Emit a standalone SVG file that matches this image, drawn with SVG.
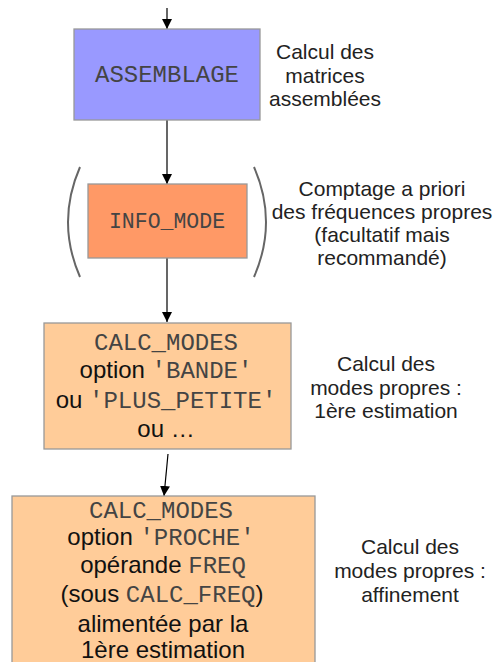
<svg xmlns="http://www.w3.org/2000/svg" width="498" height="662" viewBox="0 0 498 662">
<style>
.box{stroke:#999;stroke-width:1.3}
.mono{font-family:"Liberation Mono","Courier New",monospace;fill:#444}
.sans{font-family:"Liberation Sans",Arial,sans-serif;fill:#111}
.note{font-family:"Liberation Sans",Arial,sans-serif;font-size:21px;fill:#222;text-anchor:middle}
.c{text-anchor:middle}
.edge{stroke:#000;stroke-width:1.2;fill:none;marker-end:url(#ah)}
.paren{stroke:#666;stroke-width:2;fill:none}
</style>
<defs>
<marker id="ah" viewBox="0 0 10 14" refX="10" refY="5" markerWidth="10" markerHeight="14" markerUnits="userSpaceOnUse" orient="auto">
<path d="M0,0 L10,5 L0,10 Z" fill="#000"/>
</marker>
</defs>
<g id="connectors">
<line class="edge" x1="167" y1="8" x2="167" y2="29"/>
<line class="edge" x1="167" y1="120" x2="167" y2="184"/>
<line class="edge" x1="167" y1="258" x2="167" y2="322"/>
<line class="edge" x1="168" y1="454" x2="164" y2="496"/>
</g>
<g id="assemblage">
<rect class="box" x="74" y="29" width="186" height="91" fill="#9999ff"/>
<text class="mono c" x="167" y="82" font-size="24">ASSEMBLAGE</text>
</g>
<g id="note-assemblage">
<text class="note" x="325" y="59">Calcul des</text>
<text class="note" x="325" y="83">matrices</text>
<text class="note" x="325" y="106">assemblées</text>
</g>
<g id="info_mode">
<path class="paren" d="M80,167 Q56,222 80,277"/>
<path class="paren" d="M254,167 Q278,222 254,277"/>
<rect class="box" x="88" y="184" width="159" height="74" fill="#ff9966"/>
<text class="mono c" x="167" y="228" font-size="21.5">INFO_MODE</text>
</g>
<g id="note-info">
<text class="note" x="382" y="196">Comptage a priori</text>
<text class="note" x="382" y="219">des fréquences propres</text>
<text class="note" x="382" y="242">(facultatif mais</text>
<text class="note" x="382" y="265">recommandé)</text>
</g>
<g id="calc1">
<rect class="box" x="44" y="323" width="247" height="126" fill="#ffcc99"/>
<text class="c" x="166" y="350" font-size="24"><tspan class="mono">CALC_MODES</tspan></text>
<text class="c" x="166" y="378" font-size="24"><tspan class="sans">option </tspan><tspan class="mono">'BANDE'</tspan></text>
<text class="c" x="166" y="408" font-size="24"><tspan class="sans">ou </tspan><tspan class="mono">'PLUS_PETITE'</tspan></text>
<text class="c sans" x="166" y="437" font-size="24">ou …</text>
</g>
<g id="note-calc1">
<text class="note" x="386" y="371">Calcul des</text>
<text class="note" x="386" y="395">modes propres :</text>
<text class="note" x="386" y="418">1ère estimation</text>
</g>
<g id="calc2">
<rect class="box" x="12" y="496" width="303" height="180" fill="#ffcc99"/>
<text class="c" x="161" y="518" font-size="24"><tspan class="mono">CALC_MODES</tspan></text>
<text class="c" x="161" y="545" font-size="24"><tspan class="sans">option </tspan><tspan class="mono">'PROCHE'</tspan></text>
<text class="c" x="163" y="573" font-size="24"><tspan class="sans">opérande </tspan><tspan class="mono">FREQ</tspan></text>
<text class="c" x="162" y="602" font-size="24"><tspan class="sans">(sous </tspan><tspan class="mono">CALC_FREQ</tspan><tspan class="sans">)</tspan></text>
<text class="c sans" x="163" y="632" font-size="24">alimentée par la</text>
<text class="c sans" x="163" y="658" font-size="24">1ère estimation</text>
</g>
<g id="note-calc2">
<text class="note" x="410" y="554">Calcul des</text>
<text class="note" x="410" y="578">modes propres :</text>
<text class="note" x="410" y="602">affinement</text>
</g>
</svg>
